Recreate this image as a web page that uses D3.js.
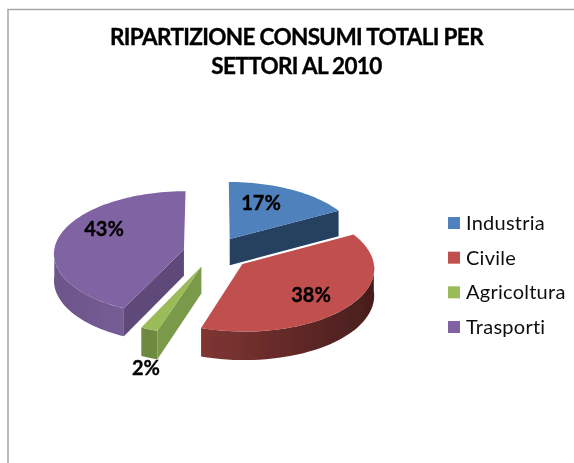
<!DOCTYPE html>
<html>
<head>
<meta charset="utf-8">
<script src="https://cdnjs.cloudflare.com/ajax/libs/d3/7.8.5/d3.min.js"></script>
<style>
  html, body { margin: 0; padding: 0; background: #fff; }
  svg { display: block; font-family: Lato, "Open Sans", sans-serif; }
</style>
</head>
<body>
<div id="chart"></div>
<script>
'use strict';

var titleLines = ['RIPARTIZIONE CONSUMI TOTALI PER', 'SETTORI AL 2010'];
var categories = ['Industria', 'Civile', 'Agricoltura', 'Trasporti'];
var values = [17, 38, 2, 43];

var topColors = ['#4f81bd', '#c0504d', '#9bbb59', '#8064a2'];
var cutColors = ['#253f60', '#5c2523', '#7a9a48', '#5e4a78'];
var wallLeft = ['#253f60', '#803533', '#6d8a3f', '#6c5589'];
var wallRight = ['#253f60', '#481e1d', '#6d8a3f', '#755d95'];
var labelXY = [[261, 203], [311, 295], [146, 368], [104, 229]];

var width = 574;
var height = 463;

// ground plane to screen, near side comes out bigger
var cx = 213, cy = 252.5, rx = 130, ry = 62, persp = 0.06;
var explode = [0.256, 0.29, 0.24, 0.23];
var depth = 26.5;

function project(x, y, z) {
  var s = 1 / (1 - persp * y);
  return [cx + rx * x * s, cy + ry * y * s + (z || 0) * s];
}

function rim(e, z) {
  return function(t) {
    return project(e.x + Math.sin(t), e.y - Math.cos(t), z);
  };
}

var svg = d3.select('#chart')
  .append('svg')
  .attr('width', width)
  .attr('height', height);

var defs = svg.append('defs');
defs.append('filter')
  .attr('id', 'soft')
  .append('feGaussianBlur')
  .attr('stdDeviation', 0.5);

// frame of the original slide, open on the right and at the bottom
svg.append('path')
  .attr('d', d3.line()([[8, height], [8, 9.5], [width, 9.5]]))
  .attr('fill', 'none')
  .attr('stroke', '#a6a6a6')
  .attr('stroke-width', 1.5);

var pie = d3.pie().sort(null);
var slices = pie(values);
var line = d3.line();
var chart = svg.append('g').attr('filter', 'url(#soft)');

// back to front
[0, 3, 2, 1].forEach(function(i) {
  var d = slices[i];
  var mid = (d.startAngle + d.endAngle) / 2;
  var e = { x: explode[i] * Math.sin(mid), y: -explode[i] * Math.cos(mid) };
  var top = rim(e, 0);
  var low = rim(e, depth);
  var apex = project(e.x, e.y, 0);
  var apexLow = project(e.x, e.y, depth);

  // cut faces, only where they look towards us
  if (Math.sin(d.endAngle) > 0.01) {
    chart.append('path')
      .attr('d', line([apex, top(d.endAngle), low(d.endAngle), apexLow]) + 'Z')
      .attr('fill', cutColors[i]);
  }
  if (Math.sin(d.startAngle) < -0.01) {
    chart.append('path')
      .attr('d', line([apex, top(d.startAngle), low(d.startAngle), apexLow]) + 'Z')
      .attr('fill', cutColors[i]);
  }

  // outer wall, front half only
  var a0 = Math.max(d.startAngle, Math.PI / 2);
  var a1 = Math.min(d.endAngle, 3 * Math.PI / 2);
  if (a1 > a0) {
    var steps = d3.range(0, 41).map(function(k) { return a0 + (a1 - a0) * k / 40; });
    var pts = steps.map(top).concat(steps.slice().reverse().map(low));
    var xs = d3.extent(pts, function(p) { return p[0]; });
    var grad = defs.append('linearGradient')
      .attr('id', 'wall' + i)
      .attr('gradientUnits', 'userSpaceOnUse')
      .attr('x1', xs[0]).attr('x2', xs[1])
      .attr('y1', 0).attr('y2', 0);
    grad.append('stop').attr('offset', 0).attr('stop-color', wallLeft[i]);
    grad.append('stop').attr('offset', 1).attr('stop-color', wallRight[i]);
    chart.append('path')
      .attr('d', line(pts) + 'Z')
      .attr('fill', 'url(#wall' + i + ')');
  }

  // top face
  var n = Math.max(4, Math.round((d.endAngle - d.startAngle) * 30));
  var outline = d3.range(0, n + 1).map(function(k) {
    return top(d.startAngle + (d.endAngle - d.startAngle) * k / n);
  });
  chart.append('path')
    .attr('d', line([apex].concat(outline)) + 'Z')
    .attr('fill', topColors[i]);
});

var text = svg.append('g')
  .attr('fill', '#000')
  .attr('stroke', '#000')
  .attr('stroke-width', 0.35)
  .attr('filter', 'url(#soft)');

text.selectAll('.title')
  .data(titleLines)
  .enter()
  .append('text')
  .attr('class', 'title')
  .attr('x', 296.5)
  .attr('y', function(d, i) { return 45 + i * 28.5; })
  .attr('text-anchor', 'middle')
  .attr('font-size', 22.5)
  .attr('letter-spacing', -0.65)
  .attr('font-weight', 700)
  .text(function(d) { return d; });

text.selectAll('.pct')
  .data(values)
  .enter()
  .append('text')
  .attr('class', 'pct')
  .attr('x', function(d, i) { return labelXY[i][0]; })
  .attr('y', function(d, i) { return labelXY[i][1] + 7; })
  .attr('text-anchor', 'middle')
  .attr('font-size', 20)
  .attr('font-weight', 700)
  .text(function(d) { return d + '%'; });

var legendY = d3.scalePoint().domain(categories).range([223, 327]);

var legend = svg.append('g').attr('filter', 'url(#soft)');
legend.selectAll('rect')
  .data(categories)
  .enter()
  .append('rect')
  .attr('x', 448)
  .attr('y', function(d) { return legendY(d) - 6; })
  .attr('width', 12)
  .attr('height', 12)
  .attr('fill', function(d, i) { return topColors[i]; });
legend.selectAll('text')
  .data(categories)
  .enter()
  .append('text')
  .attr('x', 466)
  .attr('y', function(d) { return legendY(d) + 7; })
  .attr('font-size', 20)
  .attr('letter-spacing', 0.25)
  .attr('fill', '#111')
  .text(function(d) { return d; });
</script>
</body>
</html>
